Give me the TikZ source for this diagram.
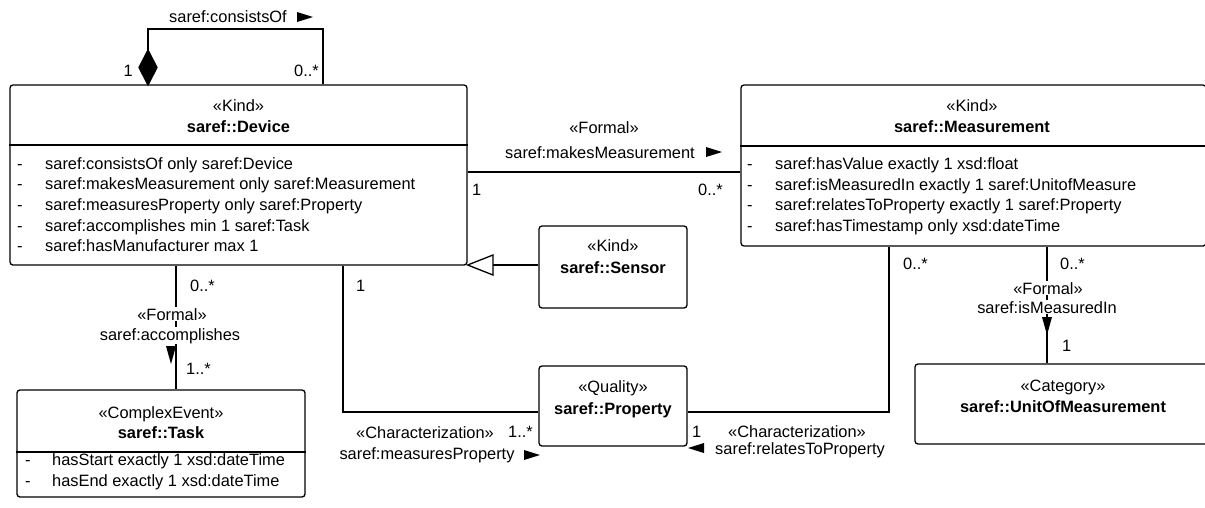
\documentclass[tikz,border=0pt]{standalone}
\usepackage{fontspec}
\setmainfont{Liberation Sans}
\begin{document}
\begin{tikzpicture}[x=1pt,y=-1pt,
  font=\fontsize{16.4}{20}\selectfont,
  box/.style={draw, line width=1.3pt, rounded corners=3pt, inner sep=0pt},
  conn/.style={line width=1.3pt},
  txt/.style={inner sep=0pt, anchor=base},
  ltxt/.style={inner sep=0pt, anchor=base west},
  rtxt/.style={inner sep=0pt, anchor=base east},
  lbl/.style={inner sep=1pt, anchor=base, fill=white},
  pics/tri right/.style={code={\fill (-8,-5) -- (8,0) -- (-8,5) -- cycle;}},
  pics/tri left/.style={code={\fill (8,-5) -- (-8,0) -- (8,5) -- cycle;}},
  pics/tri down/.style={code={\fill (-5,-9) -- (0,9) -- (5,-9) -- cycle;}},
]
\useasboundingbox (0,0) rectangle (1205,507);

% ---------- classes ----------
\node[box, minimum width=457pt, minimum height=180pt] (dev)  at (238.5,175) {};
\node[box, minimum width=465pt, minimum height=161pt] (meas) at (973.5,165.5) {};
\node[box, minimum width=288pt, minimum height=107pt] (tsk)  at (161,443.5) {};
\node[box, minimum width=148pt, minimum height=82pt]  (sen)  at (613,267) {};
\node[box, minimum width=148pt, minimum height=80pt]  (prop) at (613,406) {};
\node[box, minimum width=296pt, minimum height=80pt]  (uom)  at (1063,404) {};

% compartment separators
\draw[conn] (dev.west |- 0,145) -- (dev.east |- 0,145);
\draw[conn] (meas.west |- 0,146) -- (meas.east |- 0,146);
\draw[conn] (tsk.west |- 0,452) -- (tsk.east |- 0,452);

% Device
\node[txt] (devst) at (238.5,111) {«Kind»};
\node[txt] (devnm) at (238.5,132) {\bfseries saref::Device};
\foreach \y/\t [count=\i] in {169/saref:consistsOf only saref:Device,
    189/saref:makesMeasurement only saref:Measurement,
    210/saref:measuresProperty only saref:Property,
    231/saref:accomplishes min 1 saref:Task,
    251/saref:hasManufacturer max 1}{
  \node[ltxt] (devd\i) at (17,\y) {-};
  \node[ltxt] (deva\i) at (45,\y) {\t};
}

% Measurement
\node[txt] (measst) at (972,111) {«Kind»};
\node[txt] (measnm) at (972,132) {\bfseries saref::Measurement};
\foreach \y/\t [count=\i] in {169/saref:hasValue exactly 1 xsd:float,
    190/saref:isMeasuredIn exactly 1 saref:UnitofMeasure,
    210/saref:relatesToProperty exactly 1 saref:Property,
    231/saref:hasTimestamp only xsd:dateTime}{
  \node[ltxt] (measd\i) at (747,\y) {-};
  \node[ltxt] (measa\i) at (775,\y) {\t};
}

% Task
\node[txt] (tskst) at (161,418) {«ComplexEvent»};
\node[txt] (tsknm) at (161,438) {\bfseries saref::Task};
\foreach \y/\t [count=\i] in {465/hasStart exactly 1 xsd:dateTime,
    486/hasEnd exactly 1 xsd:dateTime}{
  \node[ltxt] (tskd\i) at (25,\y) {-};
  \node[ltxt] (tska\i) at (52,\y) {\t};
}

% Sensor, Property, UnitOfMeasurement
\node[txt] (senst) at (613,251) {«Kind»};
\node[txt] (sennm) at (613,273) {\bfseries saref::Sensor};
\node[txt] (propst) at (613,392) {«Quality»};
\node[txt] (propnm) at (613,414) {\bfseries saref::Property};
\node[txt] (uomst) at (1063,391) {«Category»};
\node[txt] (uomnm) at (1063,412) {\bfseries saref::UnitOfMeasurement};

% ---------- associations ----------
% consistsOf (composition, self)
\draw[conn] (dev.north -| 323,0) |- (148,29) -- (148,50);
\filldraw[conn] (148,50) -- (157,67.5) -- (148,85) -- (139,67.5) -- cycle;
\node[txt] (coname) at (228,22) {saref:consistsOf};
\pic at (305,17) {tri right};
\node[rtxt] (com1) at (133,76) {1};
\node[rtxt] (com2) at (319,76) {0..*};

% makesMeasurement
\draw[conn] (dev.east |- 0,172) -- (meas.west |- 0,172);
\node[txt] (mmst) at (604,133) {«Formal»};
\node[txt] (mmname) at (600,158) {saref:makesMeasurement};
\pic at (714,152) {tri right};
\node[ltxt] (mmm1) at (472,195) {1};
\node[rtxt] (mmm2) at (723,195) {0..*};

% Sensor specialises Device
\draw[conn] (sen.west |- 0,265) -- (493,265);
\draw[conn, fill=white] (493,255) -- (dev.east |- 0,265) -- (493,275) -- cycle;

% accomplishes
\draw[conn] (dev.south -| 176,0) -- (tsk.north -| 176,0);
\node[ltxt] (acm1) at (190,291) {0..*};
\node[lbl] (acst) at (172,320) {«Formal»};
\node[lbl] (acname) at (170,340) {saref:accomplishes};
\pic at (171,355) {tri down};
\node[ltxt] (acm2) at (186,374) {1..*};

% measuresProperty
\draw[conn] (dev.south -| 343,0) |- (prop.west |- 0,412);
\node[ltxt] (mpm1) at (356,291) {1};
\node[txt] (mpst) at (425,438) {«Characterization»};
\node[txt] (mpname) at (427,459) {saref:measuresProperty};
\pic at (532,455) {tri right};
\node[rtxt] (mpm2) at (533,437) {1..*};

% relatesToProperty
\draw[conn] (prop.east |- 0,412) -| (meas.south -| 889,0);
\node[ltxt] (rpm1) at (692,437) {1};
\node[txt] (rpst) at (797,437) {«Characterization»};
\node[txt] (rpname) at (800,454) {saref:relatesToProperty};
\pic at (696,448) {tri left};
\node[ltxt] (rpm2) at (903,269) {0..*};

% isMeasuredIn
\draw[conn] (meas.south -| 1047,0) -- (uom.north -| 1047,0);
\node[ltxt] (imm1) at (1060,269) {0..*};
\node[lbl] (imst) at (1048,294) {«Formal»};
\node[lbl] (imname) at (1047,313) {saref:isMeasuredIn};
\pic at (1047,326) {tri down};
\node[ltxt] (imm2) at (1062,351) {1};
\end{tikzpicture}
\end{document}
